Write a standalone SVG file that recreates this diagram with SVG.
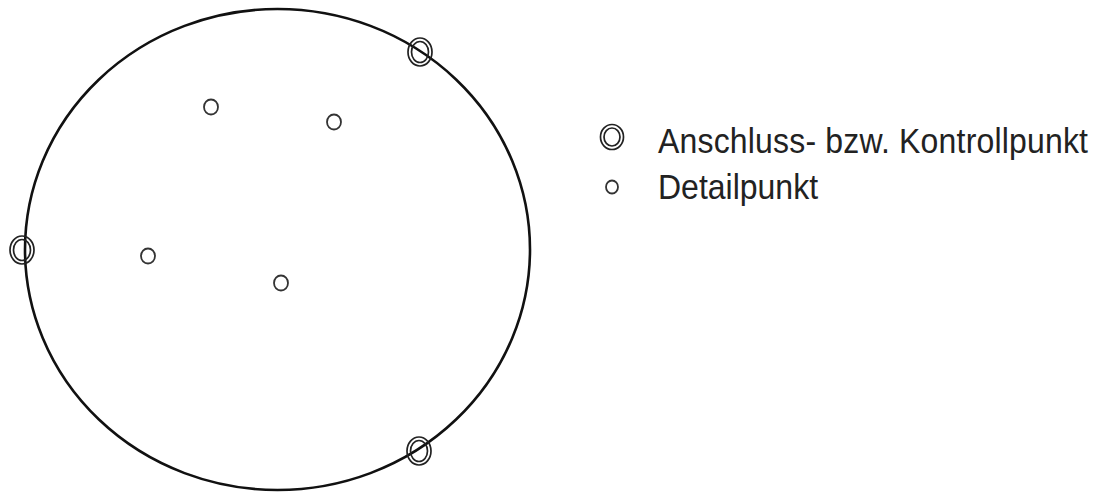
<svg xmlns="http://www.w3.org/2000/svg" width="1095" height="493" viewBox="0 0 1095 493">
<style>
.bound{fill:none;stroke:#111;stroke-width:2.6}
.ring{fill:none;stroke:#222;stroke-width:1.7}
.dot{fill:#fff;stroke:#333;stroke-width:1.8}
.lbl{font-family:"Liberation Sans",Arial,sans-serif;font-size:32px;fill:#222}
</style>
<rect width="1095" height="493" fill="#fff"/>
<g id="connectors">
<ellipse class="bound" cx="277.5" cy="249.5" rx="252.5" ry="240.5"/>
</g>
<g id="control-top-right">
<ellipse class="ring" cx="420" cy="52" rx="12" ry="14"/>
<ellipse class="ring" cx="420" cy="52" rx="8.5" ry="10.5"/>
</g>
<g id="control-left">
<ellipse class="ring" cx="22" cy="250" rx="12" ry="14"/>
<ellipse class="ring" cx="22" cy="250" rx="8.5" ry="10.5"/>
</g>
<g id="control-bottom-right">
<ellipse class="ring" cx="419" cy="451" rx="12" ry="14"/>
<ellipse class="ring" cx="419" cy="451" rx="8.5" ry="10.5"/>
</g>
<g id="detail-1"><ellipse class="dot" cx="211" cy="107" rx="7" ry="7.5"/></g>
<g id="detail-2"><ellipse class="dot" cx="334" cy="122" rx="7" ry="7.5"/></g>
<g id="detail-3"><ellipse class="dot" cx="148" cy="256" rx="7" ry="7.5"/></g>
<g id="detail-4"><ellipse class="dot" cx="281" cy="283" rx="7" ry="7.5"/></g>
<g id="legend-control">
<ellipse class="ring" cx="612" cy="137" rx="11.5" ry="12.5"/>
<ellipse class="ring" cx="612" cy="137" rx="8" ry="9"/>
<text class="lbl" transform="translate(658,153) scale(1,1.1)" textLength="430">Anschluss- bzw. Kontrollpunkt</text>
</g>
<g id="legend-detail">
<ellipse class="dot" cx="612" cy="187" rx="6" ry="6.5"/>
<text class="lbl" transform="translate(658,199) scale(1,1.1)">Detailpunkt</text>
</g>
</svg>
